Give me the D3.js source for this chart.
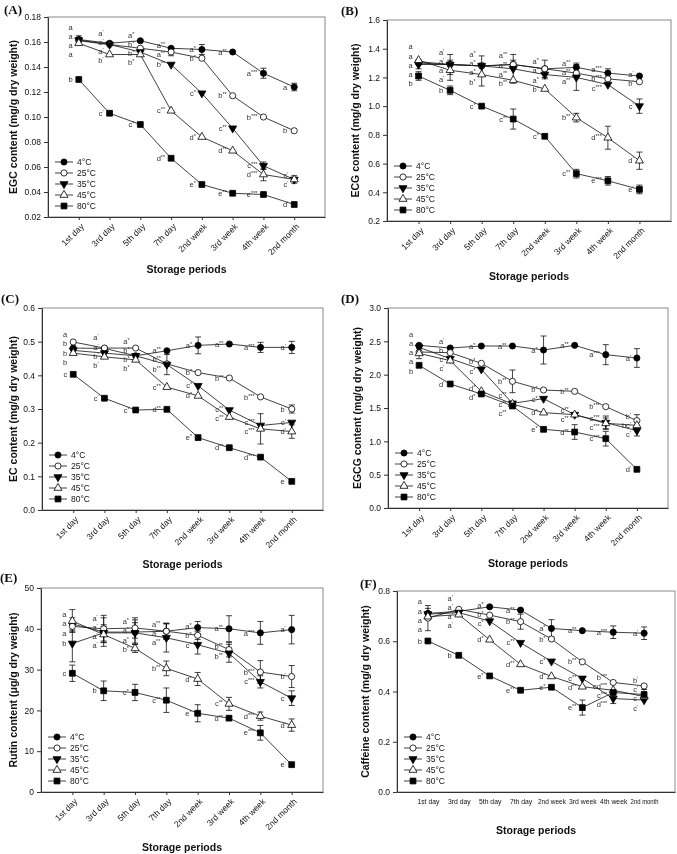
<!DOCTYPE html>
<html><head><meta charset="utf-8">
<script src="https://cdn.jsdelivr.net/npm/d3@7"></script>
<style>body{margin:0;background:#fff} svg{will-change:transform;display:block} text{font-family:"Liberation Sans",Arial,sans-serif;fill:#111}</style>
</head><body><svg id="c" width="677" height="854"></svg>
<script>
// ---------- shared categories ----------
const periods = ["1st day","3rd day","5th day","7th day","2nd week","3rd week","4th week","2nd month"];
const temps = ["4°C","25°C","35°C","45°C","80°C"];

// ---------- (A) EGC ----------
const EGC_4C  = [0.162,0.159,0.161,0.155,0.154,0.152,0.135,0.124];
const EGC_25C = [0.161,0.158,0.155,0.152,0.147,0.117,0.100,0.089];
const EGC_35C = [0.1615,0.158,0.152,0.142,0.119,0.091,0.061,0.050];
const EGC_45C = [0.159,0.150,0.150,0.105,0.084,0.073,0.054,0.050];
const EGC_80C = [0.130,0.103,0.094,0.067,0.046,0.039,0.038,0.030];
const EGC_4C_err  = [0.003,0.001,0.001,0.001,0.004,0.001,0.004,0.003];
const EGC_25C_err = [0.002,0.001,0.001,0.003,0.002,0.001,0.001,0.001];
const EGC_35C_err = [0.002,0.001,0.001,0.001,0.001,0.001,0.003,0.002];
const EGC_45C_err = [0.002,0.001,0.001,0.001,0.001,0.001,0.005,0.003];
const EGC_80C_err = [0.001,0.001,0.001,0.001,0.001,0.002,0.002,0.001];
const EGC_4C_sig  = ["a","a'","a*","a**","a*","a**","a***","a'"];
const EGC_25C_sig = ["a","a'","b*","a**","b*","b**","b***","b'"];
const EGC_35C_sig = ["a","a'","b*","b**","c*","c**","c***","c'"];
const EGC_45C_sig = ["a","b'","b*","c**","d*","d**","d***","c'"];
const EGC_80C_sig = ["b","c'","c*","d**","e*","e**","e***","d'"];
const EGC_ticks = [0.02,0.04,0.06,0.08,0.10,0.12,0.14,0.16,0.18];

// ---------- (B) ECG ----------
const ECG_4C  = [1.30,1.29,1.28,1.29,1.26,1.27,1.23,1.21];
const ECG_25C = [1.31,1.29,1.28,1.29,1.26,1.23,1.19,1.17];
const ECG_35C = [1.29,1.29,1.28,1.26,1.22,1.20,1.15,1.00];
const ECG_45C = [1.32,1.25,1.22,1.18,1.12,0.92,0.78,0.62];
const ECG_80C = [1.21,1.11,1.00,0.91,0.79,0.53,0.48,0.42];
const ECG_4C_err  = [0.02,0.02,0.02,0.02,0.02,0.03,0.03,0.01];
const ECG_25C_err = [0.02,0.02,0.02,0.03,0.06,0.02,0.02,0.01];
const ECG_35C_err = [0.03,0.07,0.07,0.10,0.03,0.09,0.02,0.05];
const ECG_45C_err = [0.02,0.07,0.08,0.02,0.01,0.03,0.08,0.06];
const ECG_80C_err = [0.03,0.03,0.01,0.07,0.01,0.03,0.03,0.03];
const ECG_4C_sig  = ["a","a'","a*","a**","a*","a**","a***","a'"];
const ECG_25C_sig = ["a","a'","a*","a**","a*","a**","b***","b'"];
const ECG_35C_sig = ["a","a'","a*","a**","a*","a**","c***","c'"];
const ECG_45C_sig = ["a","a'","b*","b**","b*","b**","d***","d'"];
const ECG_80C_sig = ["b","b'","c*","c**","c*","c**","e***","e'"];
const ECG_ticks = [0.2,0.4,0.6,0.8,1.0,1.2,1.4,1.6];

// ---------- (C) EC ----------
const EC_4C  = [0.481,0.480,0.458,0.473,0.489,0.493,0.483,0.483];
const EC_25C = [0.499,0.481,0.481,0.434,0.408,0.392,0.336,0.300];
const EC_35C = [0.474,0.466,0.458,0.432,0.369,0.297,0.251,0.260];
const EC_45C = [0.466,0.455,0.446,0.365,0.339,0.276,0.241,0.233];
const EC_80C = [0.403,0.332,0.297,0.299,0.215,0.185,0.157,0.085];
const EC_4C_err  = [0.008,0.005,0.008,0.010,0.025,0.004,0.015,0.018];
const EC_25C_err = [0.004,0.004,0.004,0.005,0.004,0.010,0.004,0.012];
const EC_35C_err = [0.004,0.010,0.004,0.030,0.010,0.010,0.010,0.010];
const EC_45C_err = [0.004,0.006,0.006,0.004,0.008,0.008,0.045,0.020];
const EC_80C_err = [0.004,0.004,0.004,0.004,0.005,0.008,0.008,0.010];
const EC_4C_sig  = ["b","a'","b*","a**","a*","a**","a***","a'"];
const EC_25C_sig = ["a","a'","a*","b**","b*","b**","b***","b'"];
const EC_35C_sig = ["b","b'","b*","b**","c*","c**","c***","c'"];
const EC_45C_sig = ["b","b'","b*","c**","d*","c**","c***","d'"];
const EC_80C_sig = ["c","c'","c*","d**","e*","d**","d***","e'"];
const EC_ticks = [0.0,0.1,0.2,0.3,0.4,0.5,0.6];

// ---------- (D) EGCG ----------
const EGCG_4C  = [2.44,2.40,2.43,2.43,2.37,2.44,2.30,2.25];
const EGCG_25C = [2.34,2.33,2.17,1.90,1.77,1.75,1.52,1.31];
const EGCG_35C = [2.41,2.24,2.08,1.57,1.64,1.40,1.28,1.16];
const EGCG_45C = [2.32,2.21,1.75,1.56,1.43,1.40,1.27,1.24];
const EGCG_80C = [2.14,1.86,1.71,1.53,1.18,1.14,1.04,0.58];
const EGCG_4C_err  = [0.03,0.02,0.02,0.02,0.21,0.02,0.15,0.14];
const EGCG_25C_err = [0.02,0.02,0.02,0.17,0.02,0.02,0.02,0.09];
const EGCG_35C_err = [0.03,0.03,0.02,0.02,0.02,0.02,0.10,0.08];
const EGCG_45C_err = [0.08,0.03,0.03,0.03,0.04,0.03,0.08,0.06];
const EGCG_80C_err = [0.02,0.02,0.03,0.03,0.02,0.11,0.11,0.05];
const EGCG_4C_sig  = ["a","a'","a*","a**","a*","a**","a***","a'"];
const EGCG_25C_sig = ["a","b'","b*","b**","b*","b**","b***","b'"];
const EGCG_35C_sig = ["a","c'","c*","c**","c*","c**","c***","c'"];
const EGCG_45C_sig = ["a","c'","d*","c**","d*","c**","c***","bc'"];
const EGCG_80C_sig = ["b","d'","d*","c**","e*","d**","c***","d'"];
const EGCG_ticks = [0.0,0.5,1.0,1.5,2.0,2.5,3.0];

// ---------- (E) Rutin ----------
const RUT_4C  = [41.2,39.2,39.2,39.4,40.3,40.0,39.0,39.8];
const RUT_25C = [40.6,40.0,40.2,39.4,38.4,34.9,29.4,28.3];
const RUT_35C = [36.4,39.0,39.0,37.8,36.1,34.0,27.0,23.0];
const RUT_45C = [41.9,38.6,35.2,30.3,27.7,21.6,18.6,16.4];
const RUT_80C = [29.1,24.8,24.4,22.5,19.3,18.1,14.5,6.7];
const RUT_4C_err  = [1.5,3.5,3.0,2.0,1.5,3.2,2.8,3.5];
const RUT_25C_err = [1.2,3.3,2.5,1.8,1.0,1.8,2.8,2.7];
const RUT_35C_err = [4.5,2.0,2.5,3.5,2.3,2.2,1.5,1.8];
const RUT_45C_err = [2.8,2.0,1.0,1.8,1.6,1.6,1.0,1.5];
const RUT_80C_err = [2.0,2.4,2.0,3.0,2.1,0.5,1.8,0.7];
const RUT_4C_sig  = ["a","a'","a*","a**","a*","a**","a***","a'"];
const RUT_25C_sig = ["a","a'","a*","a**","b*","b**","b***","b'"];
const RUT_35C_sig = ["b","a'","a*","a**","c*","b**","c***","c'"];
const RUT_45C_sig = ["a","a'","b*","b**","d*","c**","d***","d'"];
const RUT_80C_sig = ["c","b'","c*","c**","e*","d**","e***","e'"];
const RUT_ticks = [0,10,20,30,40,50];

// ---------- (F) Caffeine ----------
const CAF_4C  = [0.711,0.719,0.737,0.724,0.651,0.642,0.636,0.632];
const CAF_25C = [0.692,0.727,0.704,0.678,0.609,0.518,0.436,0.422];
const CAF_35C = [0.708,0.714,0.680,0.594,0.520,0.452,0.372,0.366];
const CAF_45C = [0.698,0.706,0.606,0.508,0.460,0.419,0.405,0.380];
const CAF_80C = [0.601,0.544,0.462,0.405,0.417,0.336,0.396,0.388];
const CAF_4C_err  = [0.020,0.005,0.005,0.005,0.035,0.005,0.025,0.025];
const CAF_25C_err = [0.050,0.005,0.005,0.030,0.005,0.005,0.005,0.005];
const CAF_35C_err = [0.010,0.005,0.005,0.005,0.005,0.005,0.020,0.010];
const CAF_45C_err = [0.010,0.005,0.005,0.005,0.005,0.005,0.010,0.010];
const CAF_80C_err = [0.005,0.005,0.005,0.005,0.005,0.030,0.010,0.020];
const CAF_4C_sig  = ["a","a'","a*","a**","a*","a**","a***","a'"];
const CAF_25C_sig = ["a","a'","b*","b**","b*","b**","b***","b'"];
const CAF_35C_sig = ["a","a'","c*","c**","c*","c**","d***","c'"];
const CAF_45C_sig = ["a","a'","d*","d**","d*","d**","cd***","c'"];
const CAF_80C_sig = ["b","b'","e*","e**","e*","e**","c***","c'"];
const CAF_ticks = [0.0,0.2,0.4,0.6,0.8];

// ---------- panel layout ----------
const panels = [
 {tag:"(A)", tx:4, ty:14, L:48, R:325, T:17, B:217, ytitle:"EGC content (mg/g dry weight)", ytx:-35, xto:52,
  vals:[EGC_4C,EGC_25C,EGC_35C,EGC_45C,EGC_80C], errs:[EGC_4C_err,EGC_25C_err,EGC_35C_err,EGC_45C_err,EGC_80C_err],
  sig:[EGC_4C_sig,EGC_25C_sig,EGC_35C_sig,EGC_45C_sig,EGC_80C_sig], ticks:EGC_ticks, fmt:".2f", rot:true},
 {tag:"(B)", tx:341, ty:15, L:387, R:671, T:20, B:221, ytitle:"ECG content (mg/g dry weight)", ytx:-32, xto:55,
  vals:[ECG_4C,ECG_25C,ECG_35C,ECG_45C,ECG_80C], errs:[ECG_4C_err,ECG_25C_err,ECG_35C_err,ECG_45C_err,ECG_80C_err],
  sig:[ECG_4C_sig,ECG_25C_sig,ECG_35C_sig,ECG_45C_sig,ECG_80C_sig], ticks:ECG_ticks, fmt:".1f", rot:true},
 {tag:"(C)", tx:1, ty:303, L:42, R:323, T:308, B:510, ytitle:"EC content (mg/g dry weight)", ytx:-29, xto:54,
  vals:[EC_4C,EC_25C,EC_35C,EC_45C,EC_80C], errs:[EC_4C_err,EC_25C_err,EC_35C_err,EC_45C_err,EC_80C_err],
  sig:[EC_4C_sig,EC_25C_sig,EC_35C_sig,EC_45C_sig,EC_80C_sig], ticks:EC_ticks, fmt:".1f", rot:true},
 {tag:"(D)", tx:341, ty:303, L:388, R:668, T:308, B:508, ytitle:"EGCG content (mg/g dry weight)", ytx:-31, xto:55,
  vals:[EGCG_4C,EGCG_25C,EGCG_35C,EGCG_45C,EGCG_80C], errs:[EGCG_4C_err,EGCG_25C_err,EGCG_35C_err,EGCG_45C_err,EGCG_80C_err],
  sig:[EGCG_4C_sig,EGCG_25C_sig,EGCG_35C_sig,EGCG_45C_sig,EGCG_80C_sig], ticks:EGCG_ticks, fmt:".1f", rot:true},
 {tag:"(E)", tx:0, ty:582, L:41, R:323, T:588, B:792, ytitle:"Rutin content (μg/g dry weight)", ytx:-28, xto:55,
  vals:[RUT_4C,RUT_25C,RUT_35C,RUT_45C,RUT_80C], errs:[RUT_4C_err,RUT_25C_err,RUT_35C_err,RUT_45C_err,RUT_80C_err],
  sig:[RUT_4C_sig,RUT_25C_sig,RUT_35C_sig,RUT_45C_sig,RUT_80C_sig], ticks:RUT_ticks, fmt:"d", rot:true},
 {tag:"(F)", tx:360, ty:588, L:397, R:675, T:591, B:792, ytitle:"Caffeine content (mg/g dry weight)", ytx:-32, xto:38,
  vals:[CAF_4C,CAF_25C,CAF_35C,CAF_45C,CAF_80C], errs:[CAF_4C_err,CAF_25C_err,CAF_35C_err,CAF_45C_err,CAF_80C_err],
  sig:[CAF_4C_sig,CAF_25C_sig,CAF_35C_sig,CAF_45C_sig,CAF_80C_sig], ticks:CAF_ticks, fmt:".1f", rot:false}
];

const svg = d3.select("#c");
const symbols = [
 {type:d3.symbolCircle, fill:"#000", rot:0, size:30},
 {type:d3.symbolCircle, fill:"#fff", rot:0, size:30},
 {type:d3.symbolTriangle, fill:"#000", rot:180, size:28},
 {type:d3.symbolTriangle, fill:"#fff", rot:0, size:28},
 {type:d3.symbolSquare, fill:"#000", rot:0, size:34}
];
function marker(g, cx, cy, k){
  const s = symbols[k];
  g.append("path").attr("d", d3.symbol().type(s.type).size(s.size)())
   .attr("transform", `translate(${cx},${cy}) rotate(${s.rot})`)
   .attr("fill", s.fill).attr("stroke","#000").attr("stroke-width",0.8);
}
function sigText(g, x, y, s){
  const m = s.match(/^([a-z]+)(.*)$/);
  const t = g.append("text").attr("x",x).attr("y",y).attr("dy","0.35em")
    .attr("text-anchor","end").attr("font-size",7.5).style("fill","#333");
  t.append("tspan").text(m[1]);
  if(m[2]) t.append("tspan").attr("font-size",5.5).attr("dy",-2).text(m[2]);
}

panels.forEach(p=>{
  const g = svg.append("g");
  const x = d3.scaleLinear().domain([-1,8]).range([p.L,p.R]);
  const y = d3.scaleLinear().domain([p.ticks[0], p.ticks[p.ticks.length-1]]).range([p.B,p.T]);
  g.append("rect").attr("x",p.L).attr("y",p.T).attr("width",p.R-p.L).attr("height",p.B-p.T)
   .attr("fill","none").attr("stroke","#8a8a8a").attr("stroke-width",1);
  // y axis
  const ya = g.append("g").attr("transform",`translate(${p.L},0)`)
    .call(d3.axisLeft(y).tickValues(p.ticks).tickFormat(d3.format(p.fmt)).tickSize(4).tickPadding(3).tickSizeOuter(0));
  ya.selectAll("text").attr("font-size",8.5).style("font-family","'Liberation Sans',Arial,sans-serif").style("fill","#111");
  ya.selectAll("line,path").attr("stroke","#333");
  // x axis
  const xa = g.append("g").attr("transform",`translate(0,${p.B})`)
    .call(d3.axisBottom(x).tickValues(d3.range(periods.length)).tickFormat(i=>periods[i]).tickSize(p.rot?3:0).tickSizeOuter(0));
  xa.selectAll("line,path").attr("stroke","#333");
  const xt = xa.selectAll("text").style("font-family","'Liberation Sans',Arial,sans-serif").style("fill","#111");
  if(p.rot){
    xt.attr("font-size",8.5).attr("x",0).attr("y",0).attr("dy","0.35em").attr("text-anchor","end").attr("transform","translate(3,8) rotate(-45)");
  } else {
    xt.attr("font-size",6.8).attr("y",7).each(function(){
      const w = this.getComputedTextLength();
      if (w > 28) d3.select(this).attr("textLength",28).attr("lengthAdjust","spacingAndGlyphs");
    });
  }
  // titles
  g.append("text").attr("x",p.tx).attr("y",p.ty).text(p.tag)
    .style("font-family","'Liberation Serif','Times New Roman',serif").attr("font-weight","bold").attr("font-size",13);
  g.append("text").attr("transform",`translate(${p.L+p.ytx},${(p.T+p.B)/2}) rotate(-90)`)
    .attr("text-anchor","middle").attr("dy","0.35em").attr("font-weight","bold").attr("font-size",10.5).text(p.ytitle);
  g.append("text").attr("x",(p.L+p.R)/2).attr("y",p.B+p.xto).attr("dy","0.35em").attr("text-anchor","middle")
    .attr("font-weight","bold").attr("font-size",10.5).text("Storage periods");
  // lines
  const line = d3.line().x((d,i)=>x(i)).y(d=>y(d));
  p.vals.forEach((v,k)=>{
    g.append("path").attr("d",line(v)).attr("fill","none").attr("stroke","#111").attr("stroke-width",0.8);
  });
  // error bars
  p.vals.forEach((v,k)=>{
    v.forEach((d,i)=>{
      const e = p.errs[k][i];
      const y1 = y(d+e), y2 = y(d-e), cx = x(i);
      if (y2 - y1 < 7) return;
      g.append("line").attr("x1",cx).attr("x2",cx).attr("y1",y1).attr("y2",y2).attr("stroke","#111").attr("stroke-width",0.8);
      [y1,y2].forEach(yy=>g.append("line").attr("x1",cx-3).attr("x2",cx+3).attr("y1",yy).attr("y2",yy).attr("stroke","#111").attr("stroke-width",0.8));
    });
  });
  // markers
  p.vals.forEach((v,k)=>v.forEach((d,i)=>marker(g,x(i),y(d),k)));
  // significance letters (stacked left of each point, pushed apart so they don't collide)
  const GAP = 9.2;
  periods.forEach((per,i)=>{
    const items = p.vals.map((v,k)=>({s:p.sig[k][i], y:y(v[i])}));
    items.sort((a,b)=>a.y-b.y);
    for(let it=0; it<80; it++){
      for(let j=1;j<items.length;j++){
        const d = items[j].y - items[j-1].y;
        if(d<GAP){ const m=(GAP-d)/2; items[j].y+=m; items[j-1].y-=m; }
      }
    }
    items.forEach(it=>sigText(g, x(i)-6, it.y, it.s));
  });
  // legend
  const lx = p.L + 7, ly0 = p.B - 55;
  temps.forEach((t,k)=>{
    const ly = ly0 + k*11;
    g.append("line").attr("x1",lx).attr("x2",lx+18).attr("y1",ly).attr("y2",ly).attr("stroke","#111").attr("stroke-width",0.8);
    marker(g, lx+9, ly, k);
    g.append("text").attr("x",lx+22).attr("y",ly).attr("dy","0.35em").attr("font-size",8.5).text(t);
  });
});
</script></body></html>
